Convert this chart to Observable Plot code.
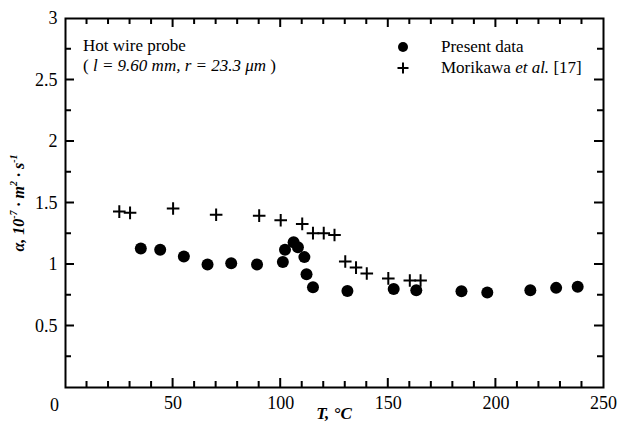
<!DOCTYPE html>
<html><head><meta charset="utf-8">
<script src="https://cdn.jsdelivr.net/npm/d3@7"></script>
<script src="https://cdn.jsdelivr.net/npm/@observablehq/plot@0.6"></script>
<style>body{margin:0;background:#fff}#chart{width:617px;height:424px}</style>
</head><body><div id="chart"></div>
<script>
// Present data (T in °C, alpha in 1e-7 m^2/s)
const presentT = [35, 44, 55, 66, 77, 89, 101, 102, 106, 108, 111, 112, 115, 131, 152.5, 163, 184, 196, 216, 228, 238];
const presentA = [1.13, 1.12, 1.065, 1.0, 1.01, 1.0, 1.02, 1.12, 1.18, 1.14, 1.06, 0.92, 0.815, 0.785, 0.80, 0.79, 0.783, 0.773, 0.79, 0.81, 0.82];
// Morikawa et al. [17]
const morikawaT = [25, 30, 50, 70, 90, 100, 110, 115, 120, 125, 130, 135, 140, 150, 160, 165];
const morikawaA = [1.43, 1.42, 1.455, 1.405, 1.397, 1.36, 1.33, 1.255, 1.255, 1.24, 1.024, 0.975, 0.927, 0.887, 0.87, 0.87];
// ticks
const xMajorTicks = [50, 100, 150, 200];
const xMinorTicks = [10, 20, 30, 40, 60, 70, 80, 90, 110, 120, 130, 140, 160, 170, 180, 190, 210, 220, 230, 240];
const xTickLabels = [50, 100, 150, 200, 250];
const yMajorTicks = [0.5, 1, 1.5, 2, 2.5];
const yMinorTicks = [0.25, 0.75, 1.25, 1.75, 2.25, 2.75];
const yTickLabels = [0.5, 1, 1.5, 2, 2.5, 3];
const originLabel = [0];

const present = presentT.map((t, i) => ({T: t, a: presentA[i]}));
const morikawa = morikawaT.map((t, i) => ({T: t, a: morikawaA[i]}));

const font = "'Liberation Serif', 'Times New Roman', serif";
const cross = {
  draw(ctx, size) {
    const r = Math.sqrt(size / Math.PI);
    ctx.moveTo(-r, 0); ctx.lineTo(r, 0);
    ctx.moveTo(0, -r); ctx.lineTo(0, r);
  }
};

const chart = Plot.plot({
  width: 617, height: 424,
  marginLeft: 65, marginRight: 14, marginTop: 18, marginBottom: 37,
  style: {fontFamily: font, fontSize: "18px", background: "white", color: "black", overflow: "visible"},
  x: {domain: [0, 250]},
  y: {domain: [0, 3]},
  marks: [
    Plot.axisX(xTickLabels, {anchor: "bottom", tickSize: 0, tickPadding: 9, label: null, fontSize: 18}),
    Plot.axisX(originLabel, {anchor: "bottom", tickSize: 0, tickPadding: 11, dx: -11, label: null, fontSize: 18}),
    Plot.axisY(yTickLabels, {anchor: "left", tickSize: 0, tickPadding: 8, label: null, fontSize: 18, tickFormat: d => String(d)}),
    Plot.frame({strokeWidth: 2}),
    Plot.dot(present, {x: "T", y: "a", r: 6, fill: "black", stroke: "none"}),
    Plot.dot(morikawa, {x: "T", y: "a", r: 6.3, symbol: cross, stroke: "black", strokeWidth: 2, fill: "none"})
  ]
});
document.getElementById("chart").append(chart);

const svg = d3.select(chart);

// inward ticks on all four sides, placed with the plot's own scales
const sx = chart.scale("x"), sy = chart.scale("y");
const [x0, x1] = sx.range, [y0, y1] = sy.range; // y0 = bottom, y1 = top
function tickPath(xv, yv, major, minor) {
  let d = "";
  for (const [vals, len] of [[xv[0], major], [xv[1], minor]]) {
    for (const v of vals) {
      const px = sx.apply(v);
      d += `M${px},${y0}V${y0 - len}M${px},${y1}V${y1 + len}`;
    }
  }
  for (const [vals, len] of [[yv[0], major], [yv[1], minor]]) {
    for (const v of vals) {
      const py = sy.apply(v);
      d += `M${x0},${py}H${x0 + len}M${x1},${py}H${x1 - len}`;
    }
  }
  return d;
}
svg.append("path")
  .attr("d", tickPath([xMajorTicks, xMinorTicks], [yMajorTicks, yMinorTicks], 9, 6))
  .attr("fill", "none")
  .style("stroke", "#000")
  .style("stroke-width", "2px");

const g = svg.append("g").attr("font-family", font).attr("fill", "black").attr("text-anchor", "start");

// annotation
g.append("text").attr("x", 83).attr("y", 51).attr("font-size", 17).text("Hot wire probe");
const ann = g.append("text").attr("x", 83).attr("y", 71).attr("font-size", 17);
ann.append("tspan").text("( ");
ann.append("tspan").attr("font-style", "italic").text("l = 9.60 mm, r = 23.3 μm");
ann.append("tspan").text(" )");

// legend
g.append("circle").attr("cx", 403).attr("cy", 47).attr("r", 5);
g.append("path").attr("d", "M397.5,68H408.5M403,62.5V73.5").attr("stroke", "black").attr("stroke-width", 2);
g.append("text").attr("x", 441).attr("y", 52).attr("font-size", 17).text("Present data");
const leg2 = g.append("text").attr("x", 441).attr("y", 73).attr("font-size", 17);
leg2.append("tspan").text("Morikawa ");
leg2.append("tspan").attr("font-style", "italic").text("et al.");
leg2.append("tspan").text(" [17]");

// axis titles
const xl = g.append("text").attr("x", 334).attr("y", 419).attr("text-anchor", "middle")
  .attr("font-size", 17).attr("font-weight", "bold").attr("font-style", "italic");
xl.append("tspan").text("T, °C");

const yl = g.append("text").attr("transform", "translate(24,203) rotate(-90)").attr("text-anchor", "middle")
  .attr("font-size", 16).attr("font-weight", "bold").attr("font-style", "italic");
yl.append("tspan").text("α, 10");
yl.append("tspan").attr("font-size", 10).attr("dy", -7).text("-7");
yl.append("tspan").attr("dy", 7).text(" · m");
yl.append("tspan").attr("font-size", 10).attr("dy", -7).text("2");
yl.append("tspan").attr("dy", 7).text(" · s");
yl.append("tspan").attr("font-size", 10).attr("dy", -7).text("-1");
</script>
</body></html>
